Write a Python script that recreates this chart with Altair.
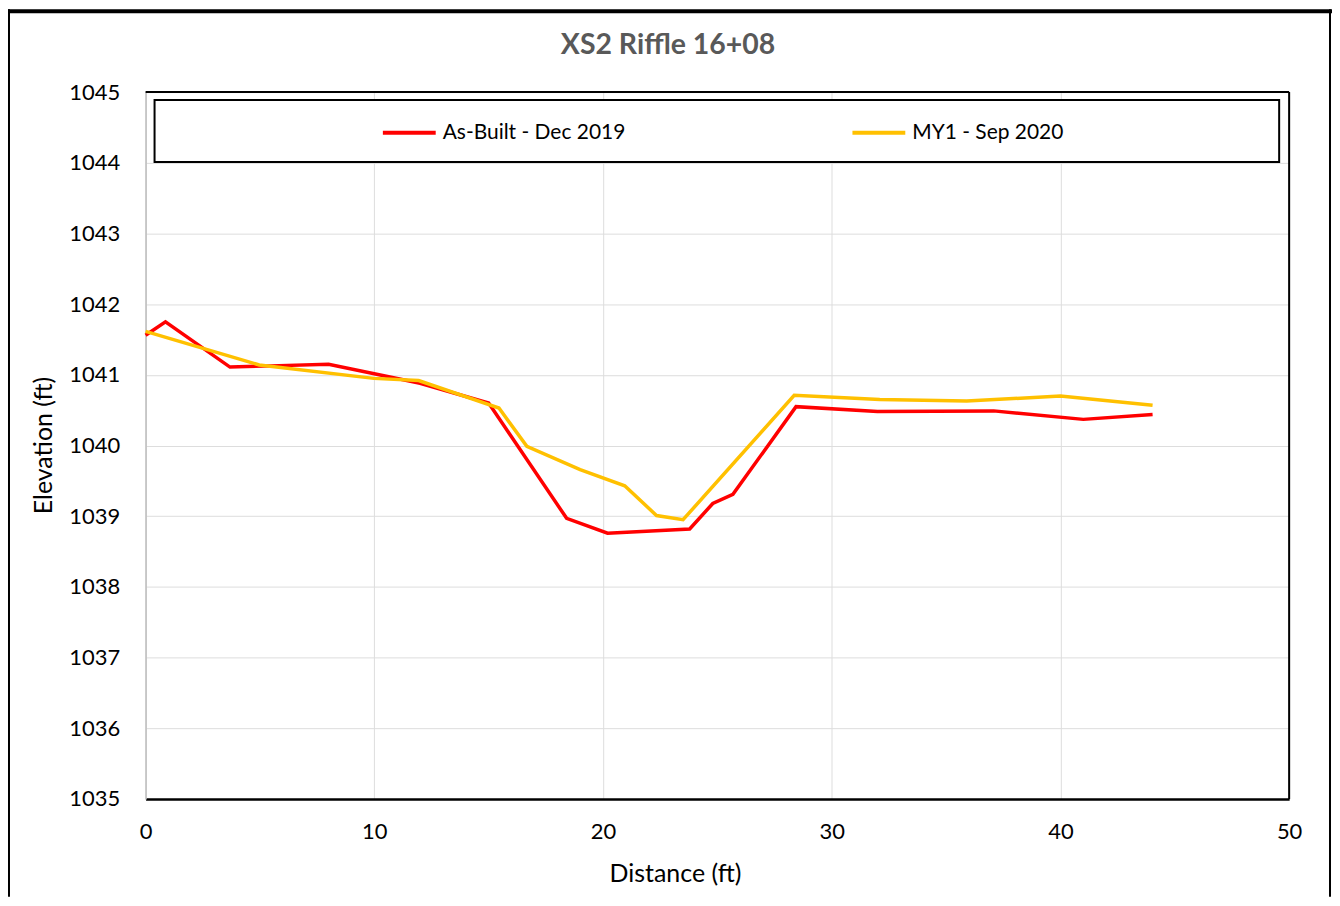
import altair as alt
import pandas as pd

chart_title = "XS2 Riffle 16+08"
series_names = ["As-Built - Dec 2019", "MY1 - Sep 2020"]
series_colors = ["#FF0000", "#FFC000"]

asbuilt_x = [0, 0.87, 3.69, 8.0, 12.0, 15.0, 18.41, 20.2, 23.79, 24.8, 25.68, 28.44, 32.0, 37.08, 41.0, 44.03]
asbuilt_y = [1041.56, 1041.75, 1041.11, 1041.15, 1040.88, 1040.60, 1038.97, 1038.76, 1038.82, 1039.18, 1039.31,
             1040.55, 1040.48, 1040.49, 1040.37, 1040.44]

my1_x = [0, 4.97, 9.98, 11.94, 15.45, 16.67, 19.0, 20.95, 22.34, 23.5, 28.36, 32.1, 35.9, 40.0, 44.03]
my1_y = [1041.615, 1041.14, 1040.95, 1040.92, 1040.53, 1039.99, 1039.66, 1039.43, 1039.01, 1038.95,
         1040.71, 1040.65, 1040.63, 1040.70, 1040.57]

x_ticks = [0, 10, 20, 30, 40, 50]
y_ticks = [1035, 1036, 1037, 1038, 1039, 1040, 1041, 1042, 1043, 1044, 1045]

rows = []
for xv, yv in zip(asbuilt_x, asbuilt_y):
    rows.append({"Distance": xv, "Elevation": yv, "Series": series_names[0]})
for xv, yv in zip(my1_x, my1_y):
    rows.append({"Distance": xv, "Elevation": yv, "Series": series_names[1]})
df = pd.DataFrame(rows)

W, H = 1147, 709
FONT = "Lato"
one = pd.DataFrame({"k": [0]})

lines = alt.Chart(df).mark_line(strokeWidth=3.5).encode(
    x=alt.X("Distance:Q", scale=alt.Scale(domain=[0, 50], nice=False),
            axis=alt.Axis(values=x_ticks, title="Distance (ft)", grid=True, ticks=False, labelFlush=False,
                          labelPadding=23, labelFontSize=22, labelFont=FONT, labelColor="#000000",
                          domainColor="#000000", domainWidth=2.5,
                          titleFont=FONT, titleFontSize=25, titleFontWeight="normal", titleColor="#000000",
                          titleX=531, titleY=75, titleBaseline="middle", titleAlign="center")),
    y=alt.Y("Elevation:Q", scale=alt.Scale(domain=[1035, 1045], nice=False, zero=False),
            axis=alt.Axis(values=y_ticks, title="Elevation (ft)", grid=True, ticks=False, labelFlush=False,
                          labelPadding=26, labelFontSize=22, labelFont=FONT, labelColor="#000000",
                          domainColor="#bfbfbf", domainWidth=1.5, format="d",
                          titleFont=FONT, titleFontSize=25, titleFontWeight="normal", titleColor="#000000",
                          titleX=-102, titleY=354, titleAngle=-90, titleBaseline="middle", titleAlign="center")),
    color=alt.Color("Series:N", scale=alt.Scale(domain=series_names, range=series_colors),
                    legend=alt.Legend(title=None, orient="none", legendX=236, legendY=12,
                                      direction="horizontal", columns=2, columnPadding=219,
                                      symbolType="stroke", symbolSize=2809, symbolStrokeWidth=4,
                                      labelFontSize=21, labelFont=FONT, labelColor="#000000",
                                      labelOffset=5, padding=0, labelLimit=400)),
)

legend_box = alt.Chart(one).mark_rect(fill="white", stroke="black", strokeWidth=2).encode(
    x=alt.value(9), x2=alt.value(1137), y=alt.value(8), y2=alt.value(70))

title_text = alt.Chart(pd.DataFrame({"t": [chart_title]})).mark_text(
    font=FONT, fontSize=28.5, fontWeight="bold", color="#595959", align="center", baseline="middle"
).encode(text="t:N", x=alt.value(524), y=alt.value(-47))

top_border = alt.Chart(one).mark_rule(color="black", strokeWidth=2).encode(
    x=alt.value(0), x2=alt.value(W), y=alt.value(0))
right_border = alt.Chart(one).mark_rule(color="black", strokeWidth=2).encode(
    x=alt.value(W), y=alt.value(0), y2=alt.value(H))

frame_top = alt.Chart(one).mark_rule(color="black", strokeWidth=4).encode(
    x=alt.value(-138), x2=alt.value(1190), y=alt.value(-81))
frame_left = alt.Chart(one).mark_rule(color="black", strokeWidth=2).encode(
    x=alt.value(-137), y=alt.value(-83), y2=alt.value(807))
frame_right = alt.Chart(one).mark_rule(color="black", strokeWidth=2).encode(
    x=alt.value(1188), y=alt.value(-83), y2=alt.value(807))

chart = alt.layer(
    legend_box, lines, top_border, right_border, frame_top, frame_left, frame_right, title_text
).properties(
    width=W, height=H,
    autosize=alt.AutoSizeParams(type="none"),
    padding={"left": 138, "top": 83, "right": 43, "bottom": 98},
).configure_view(stroke=None).configure_axis(gridColor="#d9d9d9", gridWidth=2).configure(background="white")

chart.save("out.html", embed_options={"renderer": "svg", "actions": False})
